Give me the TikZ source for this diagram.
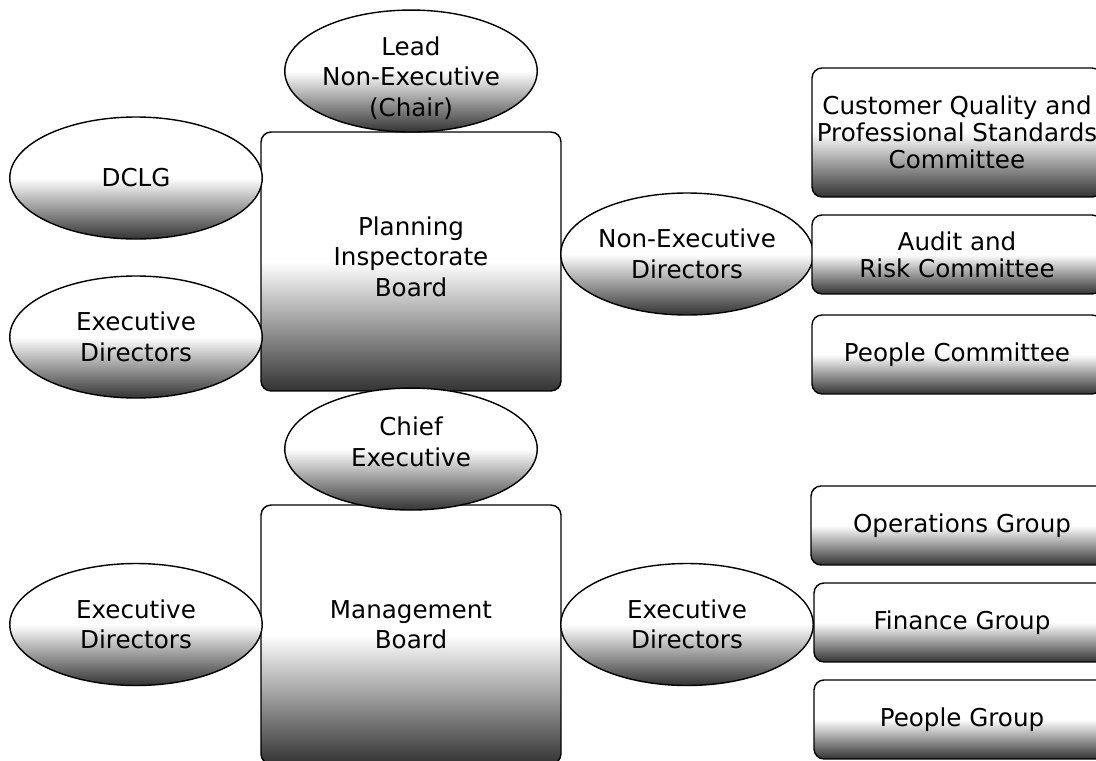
\documentclass[tikz,border=0pt]{standalone}
\usepackage{fontspec}
\setmainfont{DejaVu Sans}
\usetikzlibrary{positioning, shapes.geometric}

\begin{document}
\begin{tikzpicture}[x=0.02cm, y=-0.02cm,
    font=\fontsize{14}{17.4}\selectfont,
    shaded/.style={draw, line width=0.8pt, top color=white, bottom color=black!80, middle color=white, inner sep=0pt, outer sep=0pt},
    board/.style={shaded, rounded corners=0.2cm, minimum width=6cm, minimum height=5.18cm},
    member/.style={shaded, ellipse, minimum width=5.05cm, minimum height=2.44cm},
    committee/.style={shaded, rounded corners=0.2cm, minimum width=5.8cm, minimum height=1.58cm, align=center, font=\fontsize{14}{15.4}\selectfont},
    group/.style={committee, minimum width=5.92cm}]
    \clip (0,0) rectangle (1096,761);

    % Planning Inspectorate Board and its members
    \node (Board) [board, label={[align=center, yshift=0.1cm]center:Planning\\Inspectorate\\Board}] at (411,261.5) {};
    \node (Chair) [member, above=0cm of Board, label={[align=center, yshift=-0.14cm]center:Lead\\Non-Executive\\(Chair)}] {};
    \node (DCLG) [member, label=center:DCLG] at (136,178) {};
    \node (ExecA) [member, label={[align=center]center:Executive\\Directors}] at (136,337) {};
    \node (NonExec) [member, label={[align=center]center:Non-Executive\\Directors}] at (687,254) {};

    % Committees of the board
    \node (Customer) [committee, minimum height=2.58cm] at (957,132.5) {Customer Quality and\\Professional Standards\\Committee};
    \node (Audit) [committee, below=0.36cm of Customer] {Audit and\\Risk Committee};
    \node (PeopleC) [committee, below=0.42cm of Audit] {People Committee};

    % Management Board and its members
    \node (Mgmt) [board, label={[align=center, yshift=0.2cm]center:Management\\Board}] at (411,634.5) {};
    \node (Chief) [member, above=-0.1cm of Mgmt, label={[align=center, yshift=0.14cm]center:Chief\\Executive}] {};
    \node (ExecB) [member, label={[align=center]center:Executive\\Directors}] at (136,624.5) {};
    \node (ExecC) [member, label={[align=center]center:Executive\\Directors}] at (687,624.5) {};

    % Groups under the management board
    \node (Ops) [group, minimum width=6.04cm] at (962,525.5) {Operations Group};
    \node (Finance) [group, below=0.36cm of Ops] {Finance Group};
    \node (PeopleG) [group, below=0.36cm of Finance] {People Group};
\end{tikzpicture}
\end{document}
